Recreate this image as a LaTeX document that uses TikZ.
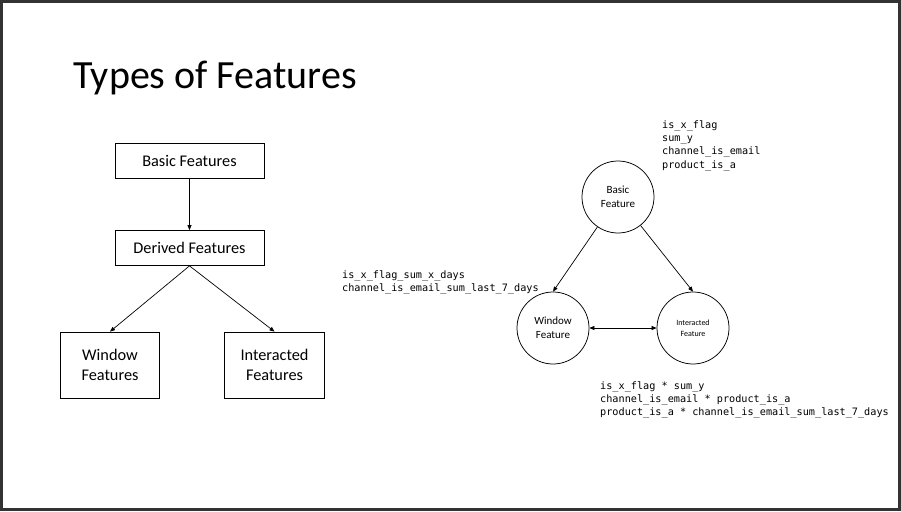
\documentclass[tikz,border=0pt]{standalone}
\usepackage{fontspec}
\setmainfont{Carlito}
\newfontfamily\codefont{DejaVu Sans Mono}
\usetikzlibrary{arrows.meta}

\definecolor{framegray}{HTML}{333333}

\tikzset{
  featbox/.style={draw, line width=0.75pt, minimum width=149pt, minimum height=35pt,
    align=center, font=\fontsize{16.3}{20.5}\selectfont},
  featcirc/.style={draw, circle, line width=0.75pt, minimum size=72pt, inner sep=0pt,
    align=center},
  codelist/.style={anchor=north west, align=left, inner sep=0pt,
    font=\codefont\fontsize{10.2}{13.4}\selectfont},
  link/.style={line width=0.7pt, -{Triangle[length=5pt,width=4pt]}},
}

\begin{document}
\begin{tikzpicture}[x=1pt,y=-1pt]
  % slide frame
  \useasboundingbox (0,0) rectangle (901,511);
  \fill[framegray] (0,0) rectangle (901,511);
  \fill[white] (3,3) rectangle (898,508);

  \node[anchor=base west, inner sep=0pt, font=\fontsize{40}{48}\selectfont] (title) at (73,88) {Types of Features};

  % left: hierarchy of boxes
  \node[featbox] (basic)      at (189.5,160.5) {Basic Features};
  \node[featbox] (derived)    at (189.5,248)   {Derived Features};
  \node[featbox, minimum width=99pt, minimum height=66pt]  (window)     at (110,365) {Window\\Features};
  \node[featbox, minimum width=100pt, minimum height=66pt] (interacted) at (274.5,365) {Interacted\\Features};

  \draw[link] (basic) -- (derived);
  \draw[link] (derived.south) -- (window.north);
  \draw[link] (derived.south) -- (interacted.north);

  % right: triangle of circles
  \node[featcirc, font=\fontsize{11}{14}\selectfont] (bfeat) at (618,197) {Basic\\Feature};
  \node[featcirc, font=\fontsize{11}{14}\selectfont] (wfeat) at (553,328) {Window\\Feature};
  \node[featcirc, font=\fontsize{8}{10.5}\selectfont] (ifeat) at (693,328) {Interacted\\Feature};

  \draw[link] (bfeat) -- (wfeat.north);
  \draw[link] (bfeat) -- (ifeat.north);
  \draw[link, {Triangle[length=5pt,width=4pt]}-{Triangle[length=5pt,width=4pt]}] (wfeat) -- (ifeat);

  % example feature names
  \node[codelist] (basiclist) at (662,120) {is\_x\_flag\\sum\_y\\channel\_is\_email\\product\_is\_a};
  \node[codelist] (windowlist) at (342,270) {is\_x\_flag\_sum\_x\_days\\channel\_is\_email\_sum\_last\_7\_days};
  \node[codelist] (interlist) at (600,381) {is\_x\_flag * sum\_y\\channel\_is\_email * product\_is\_a\\product\_is\_a * channel\_is\_email\_sum\_last\_7\_days};
\end{tikzpicture}
\end{document}
